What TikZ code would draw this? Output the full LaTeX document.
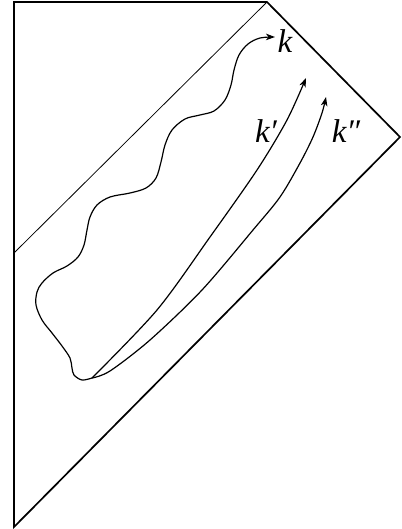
\documentclass[tikz,border=0pt]{standalone}
\usepackage{fontspec}
\setmainfont{Liberation Serif}
\usetikzlibrary{arrows.meta}
\begin{document}
\begin{tikzpicture}[x=1pt,y=-1pt,
  frame/.style={line width=1.7pt,line join=miter},
  thinline/.style={line width=0.8pt},
  ray/.style={line width=1.2pt,-{Stealth[length=9pt,width=6.5pt,inset=2.5pt]}},
  lbl/.style={font=\fontsize{33}{33}\selectfont,inner sep=0pt,anchor=base}]
\useasboundingbox (0,0) rectangle (401,529);
% corners of the diagram
\coordinate (bl) at (14,527);
\coordinate (tl) at (14,2);
\coordinate (top) at (267,2);
\coordinate (right) at (400,137);
\coordinate (mid) at (14,253);
\draw[frame] (bl) -- (tl) -- (top) -- (right) -- cycle;
\draw[thinline] (top) -- (mid);
% source point and arrow tips
\coordinate (o) at (92,378);
\coordinate (tk) at (275,37);
\coordinate (tk1) at (306,78);
\coordinate (tk2) at (326,97);
% wavy ray k
\draw[ray] plot[smooth,tension=0.55] coordinates {(o) (82,380) (74,375) (72,368) (70,358) (62,346) (52,333) (42,320) (36,305) (37,292) (42,283) (53,273) (67,266) (78,257) (84,245) (87,230) (90,217) (97,205) (110,197) (130,193) (146,188) (156,178) (161,162) (165,145) (172,130) (185,119) (200,115) (214,111) (225,100) (231,85) (234,70) (239,55) (248,44) (260,38) (tk)};
% ray k'
\draw[ray] plot[smooth] coordinates {(o) (157,310) (210,237) (257,170) (287,120) (tk1)};
% ray k''
\draw[ray] plot[smooth] coordinates {(o) (110,371) (150,340) (202,290) (253,230) (280,197) (300,163) (313,137) (322,113) (tk2)};
% labels
\node[lbl] (k) at (285,53) {\itshape k};
\node[lbl] (k1) at (266,143) {\itshape k′};
\node[lbl] (k2) at (346,143) {\itshape k″};
\end{tikzpicture}
\end{document}
